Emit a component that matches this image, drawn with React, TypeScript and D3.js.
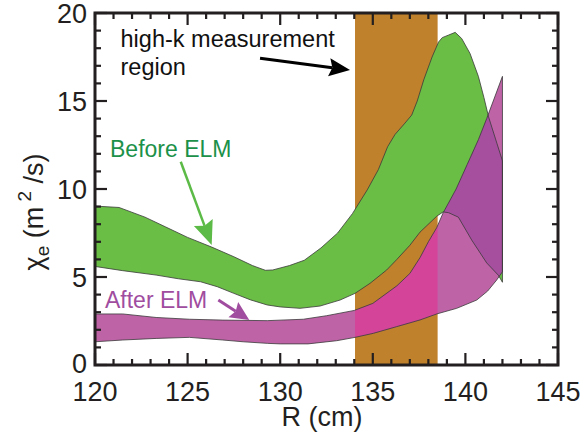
import React from "react";
import * as d3 from "d3";

// ---- data (R in cm, chi_e in m^2/s) ----
const xTicks = [120, 125, 130, 135, 140, 145];
const yTicks = [0, 5, 10, 15, 20];
const xMinorTicks = d3.range(120, 146, 1);
const yMinorTicks = d3.range(0, 21, 1);

const measurementRegion = [134.04, 138.5];

const beforeElmUpper: [number, number][] = [
  [120, 9.03], [121.3, 8.95], [122.7, 8.4], [123.8, 7.85], [125.0, 7.25],
  [126.3, 6.7], [127.5, 6.15], [128.5, 5.65], [129.2, 5.38], [129.6, 5.4],
  [130.5, 5.65], [131.3, 5.95], [132.2, 6.65], [133.1, 7.5], [133.9, 8.6],
  [134.7, 9.95], [135.3, 11.1], [135.8, 12.4], [136.2, 13.1], [136.7, 13.7],
  [137.1, 14.2], [137.4, 15.0], [137.75, 16.2], [138.2, 17.5], [138.55, 18.35],
  [138.75, 18.6], [139.1, 18.75], [139.45, 18.9], [139.8, 18.55], [140.25, 17.7],
  [140.7, 16.4], [141.0, 15.2], [141.25, 14.1], [141.7, 12.6], [142.0, 11.6],
];
const beforeElmLower: [number, number][] = [
  [120, 5.6], [121.5, 5.36], [123.3, 5.11], [124.5, 4.9], [125.7, 4.73],
  [126.6, 4.45], [127.5, 4.07], [128.4, 3.7], [129.3, 3.41], [130.0, 3.3],
  [131.07, 3.22], [132.15, 3.35], [133.23, 3.69], [134.04, 4.07], [134.85, 4.64],
  [135.75, 5.4], [136.3, 6.0], [137.0, 6.8], [137.55, 7.55], [138.45, 8.45],
  [138.8, 8.7], [139.1, 8.65], [139.62, 8.4], [140.34, 7.1], [141.15, 5.8],
  [141.78, 5.1], [142.0, 4.7],
];
const afterElmUpper: [number, number][] = [
  [120, 2.9], [121.5, 2.9], [123.3, 2.7], [125.1, 2.6], [126.9, 2.55],
  [129.3, 2.52], [131.25, 2.6], [132.5, 2.8], [134.0, 3.1], [135.0, 3.5],
  [136.3, 4.5], [137.0, 5.2], [137.55, 6.1], [138.0, 7.0], [138.45, 7.8],
  [138.8, 8.65], [139.5, 10.0], [140.1, 11.4], [140.7, 12.8], [141.15, 14.0],
  [142.0, 16.4],
];
const afterElmLower: [number, number][] = [
  [120, 1.32], [121.5, 1.42], [123.3, 1.51], [125.1, 1.57], [126.9, 1.42],
  [128.0, 1.32], [129.3, 1.23], [130.0, 1.2], [131.5, 1.2], [133.05, 1.38],
  [134.04, 1.57], [135.03, 1.8], [136.29, 2.18], [137.55, 2.56], [138.45, 2.9],
  [139.53, 3.22], [140.61, 3.69], [141.2, 4.2], [141.69, 4.83], [142.0, 5.3],
];

// annotations, in data coordinates
const labelHighK = { lines: ["high-k measurement", "region"], at: [121.38, 18.09] };
const arrowHighK = { from: [128.91, 17.43], to: [133.77, 16.76] };
const labelBefore = { text: "Before ELM", at: [120.81, 11.84] };
const arrowBefore = { from: [124.63, 11.55], to: [126.3, 6.82] };
const labelAfter = { text: "After ELM", at: [120.54, 3.22] };
const arrowAfter = { from: [126.66, 3.69], to: [128.33, 2.56] };

const W = 581;
const H = 432;
const PL = 95, PR = 558, PT = 13, PB = 365;

const C = {
  axis: "#231f20",
  band: "#c0812c",
  green: "#6abd45",
  magenta: "#bf63a7",
  purple: "#a54f9e",
  pink: "#d4459a",
  outline: "#3a3a3a",
  greenText: "#1c9149",
  greenArrow: "#5cba47",
  purpleText: "#a04d9f",
};

const FONT = "'Liberation Sans', Arial, sans-serif";

function Arrow({ x, y, a, color, width, headLen, headHalf }: any) {
  const x1 = x(a.from[0]), y1 = y(a.from[1]);
  const x2 = x(a.to[0]), y2 = y(a.to[1]);
  const dx = x2 - x1, dy = y2 - y1;
  const L = Math.hypot(dx, dy);
  const ux = dx / L, uy = dy / L;
  const bx = x2 - ux * headLen, by = y2 - uy * headLen;
  const px = -uy, py = ux;
  const notch = headLen * 0.15;
  const pts = [
    [x2, y2],
    [bx + px * headHalf, by + py * headHalf],
    [bx + ux * notch, by + uy * notch],
    [bx - px * headHalf, by - py * headHalf],
  ];
  return (
    <g>
      <line x1={x1} y1={y1} x2={bx + ux * notch} y2={by + uy * notch} stroke={color} strokeWidth={width} />
      <polygon points={pts.map((p) => p.join(",")).join(" ")} fill={color} />
    </g>
  );
}

export default function App() {
  const x = d3.scaleLinear().domain([120, 145]).range([PL, PR]);
  const y = d3.scaleLinear().domain([0, 20]).range([PB, PT]);

  const poly = d3
    .line<[number, number]>()
    .x((d) => x(d[0]))
    .y((d) => y(d[1]))
    .curve(d3.curveLinearClosed);

  const greenPath = poly([...beforeElmUpper, ...beforeElmLower.slice().reverse()]) || "";
  const magentaPath = poly([...afterElmUpper, ...afterElmLower.slice().reverse()]) || "";

  const bandX0 = x(measurementRegion[0]);
  const bandX1 = x(measurementRegion[1]);

  const majorLen = 12;
  const minorLen = 6;
  const tickW = 2.2;

  return (
    <svg
      width={W}
      height={H}
      style={{ position: "absolute", left: 0, top: 0, background: "#fff" }}
      fontFamily={FONT}
    >
      <defs>
        <clipPath id="plotClip">
          <rect x={PL} y={PT} width={PR - PL} height={PB - PT} />
        </clipPath>
        <clipPath id="greenClip">
          <path d={greenPath} />
        </clipPath>
        <clipPath id="bandClip">
          <rect x={bandX0} y={PT} width={bandX1 - bandX0} height={PB - PT} />
        </clipPath>
      </defs>

      <g clipPath="url(#plotClip)">
        <rect x={bandX0} y={y(20)} width={bandX1 - bandX0} height={y(0) - y(20)} fill={C.band} />
        <path d={greenPath} fill={C.green} />
        <path d={magentaPath} fill={C.magenta} />
        <g clipPath="url(#greenClip)">
          <path d={magentaPath} fill={C.purple} />
        </g>
        <g clipPath="url(#bandClip)">
          <path d={magentaPath} fill={C.pink} />
        </g>
        <path d={greenPath} fill="none" stroke={C.outline} strokeWidth={0.8} />
        <path d={magentaPath} fill="none" stroke={C.outline} strokeWidth={0.8} />
      </g>

      {/* ticks */}
      <g stroke={C.axis} strokeWidth={tickW}>
        {xMinorTicks.map((t) => {
          const len = t % 5 === 0 ? majorLen : minorLen;
          return (
            <g key={"x" + t}>
              <line x1={x(t)} x2={x(t)} y1={PB} y2={PB - len} />
              <line x1={x(t)} x2={x(t)} y1={PT} y2={PT + len} />
            </g>
          );
        })}
        {yMinorTicks.map((t) => {
          const len = t % 5 === 0 ? majorLen : minorLen;
          return (
            <g key={"y" + t}>
              <line y1={y(t)} y2={y(t)} x1={PL} x2={PL + len} />
              <line y1={y(t)} y2={y(t)} x1={PR} x2={PR - len} />
            </g>
          );
        })}
      </g>
      <rect x={PL} y={PT} width={PR - PL} height={PB - PT} fill="none" stroke={C.axis} strokeWidth={3} />

      {/* tick labels */}
      <g fill={C.axis} fontSize={27}>
        {xTicks.map((t) => (
          <text key={"xl" + t} x={x(t)} y={PB + 36} textAnchor="middle">
            {t}
          </text>
        ))}
        {yTicks.map((t) => (
          <text key={"yl" + t} x={PL - 8} y={y(t)} dy={t === 0 ? "0.3em" : "0.36em"} textAnchor="end">
            {t}
          </text>
        ))}
      </g>

      {/* axis titles */}
      <text x={322} y={426} textAnchor="middle" fontSize={27} fill={C.axis}>
        R (cm)
      </text>
      <text transform={`translate(43,212) rotate(-90)`} textAnchor="middle" fontSize={27} fill={C.axis}>
        χ<tspan fontSize={19} dy={6}>e</tspan>
        <tspan dy={-6}> (m</tspan>
        <tspan fontSize={19} dy={-12}> 2</tspan>
        <tspan dy={12}> /s)</tspan>
      </text>

      {/* annotations */}
      <text x={x(labelHighK.at[0])} y={y(labelHighK.at[1])} fontSize={23.5} fill="#111">
        {labelHighK.lines[0]}
      </text>
      <text x={x(labelHighK.at[0])} y={y(labelHighK.at[1]) + 28.5} fontSize={23.5} fill="#111">
        {labelHighK.lines[1]}
      </text>
      <Arrow x={x} y={y} a={arrowHighK} color="#000" width={3} headLen={21} headHalf={9} />

      <text x={x(labelBefore.at[0])} y={y(labelBefore.at[1])} fontSize={23} fill={C.greenText}>
        {labelBefore.text}
      </text>
      <Arrow x={x} y={y} a={arrowBefore} color={C.greenArrow} width={2.5} headLen={24} headHalf={10} />

      <text x={x(labelAfter.at[0])} y={y(labelAfter.at[1])} fontSize={23} fill={C.purpleText}>
        {labelAfter.text}
      </text>
      <Arrow x={x} y={y} a={arrowAfter} color={C.purpleText} width={3} headLen={19} headHalf={9} />
    </svg>
  );
}
